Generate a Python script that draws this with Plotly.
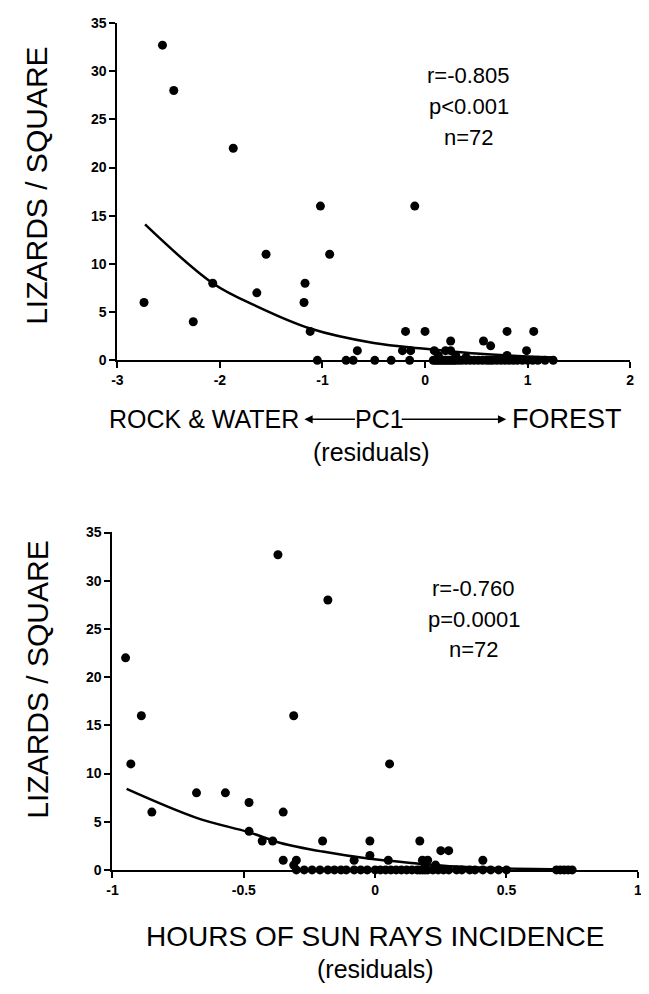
import plotly.graph_objects as go

# ---------------- Top panel: PC1 residuals ----------------
pc1_x = [-2.56, -2.45, -1.87, -1.02, -0.10, -1.55, -0.93, -1.17, -2.07, -1.64,
         -1.18, -2.74, -2.26, -1.12, -0.19, 0.00, 0.80, 1.06, 0.25, 0.57,
         0.64, -0.66, -0.22, -0.14, 0.09, 0.20, 0.25, 0.99, 0.80, 0.13,
         0.30, 0.40,
         -1.05, -0.77, -0.70, -0.49, -0.33, -0.15,
         0.08, 0.10, 0.12, 0.14, 0.16, 0.18, 0.20, 0.22, 0.24, 0.26,
         0.28, 0.30, 0.33, 0.36, 0.40, 0.44, 0.48, 0.52, 0.56, 0.60,
         0.63, 0.66, 0.70, 0.74, 0.78, 0.82, 0.86, 0.90, 0.95, 1.00,
         1.05, 1.10, 1.17, 1.25]
pc1_y = [32.7, 28, 22, 16, 16, 11, 11, 8, 8, 7,
         6, 6, 4, 3, 3, 3, 3, 3, 2, 2,
         1.5, 1, 1, 1, 1, 1, 1, 1, 0.5, 0.5,
         0.5, 0.3,
         0, 0, 0, 0, 0, 0,
         0, 0, 0, 0, 0, 0, 0, 0, 0, 0,
         0, 0, 0, 0, 0, 0, 0, 0, 0, 0,
         0, 0, 0, 0, 0, 0, 0, 0, 0, 0,
         0, 0, 0, 0]
pc1_fit_x = [-2.73, -2.07, -1.64, -1.12, -0.50, 0.00, 0.50, 1.00, 1.27]
pc1_fit_y = [14.1, 8.0, 5.6, 3.3, 1.8, 1.2, 0.7, 0.4, 0.3]
pc1_ticks = [-3, -2, -1, 0, 1, 2]
pc1_ticktext = ["-3", "-2", "-1", "0", "1", "2"]
pc1_stats = ["r=-0.805", "p<0.001", "n=72"]

# ---------------- Bottom panel: sun rays residuals ----------------
sun_x = [-0.95, -0.89, -0.93, -0.85, -0.37, -0.18, -0.31, 0.055, -0.68, -0.57,
         -0.48, -0.35, -0.48, -0.43, -0.39, -0.20, -0.02, 0.17, 0.25, 0.28,
         -0.02, -0.35, -0.30, -0.08, 0.05, 0.18, 0.20, 0.41, -0.31, 0.23,
         0.19,
         -0.30, -0.27, -0.24, -0.21, -0.18, -0.155, -0.13, -0.11, -0.08, -0.055,
         -0.03, 0.00, 0.02, 0.04, 0.06, 0.08, 0.10, 0.12, 0.14, 0.16,
         0.17, 0.18, 0.19, 0.20, 0.22, 0.24, 0.26, 0.28, 0.31, 0.33,
         0.36, 0.38, 0.41, 0.44, 0.47, 0.50, 0.69, 0.705, 0.72, 0.735,
         0.75]
sun_y = [22, 16, 11, 6, 32.7, 28, 16, 11, 8, 8,
         7, 6, 4, 3, 3, 3, 3, 3, 2, 2,
         1.5, 1, 1, 1, 1, 1, 1, 1, 0.5, 0.5,
         0.6,
         0, 0, 0, 0, 0, 0, 0, 0, 0, 0,
         0, 0, 0, 0, 0, 0, 0, 0, 0, 0,
         0, 0, 0, 0, 0, 0, 0, 0, 0, 0,
         0, 0, 0, 0, 0, 0, 0, 0, 0, 0,
         0]
sun_fit_x = [-0.946, -0.68, -0.48, -0.36, -0.20, -0.02, 0.15, 0.31, 0.50, 0.75]
sun_fit_y = [8.4, 5.4, 3.9, 2.8, 1.9, 1.15, 0.7, 0.35, 0.15, 0.05]
sun_ticks = [-1, -0.5, 0, 0.5, 1]
sun_ticktext = ["-1", "-0.5", "0", "0.5", "1"]
sun_stats = ["r=-0.760", "p=0.0001", "n=72"]

y_ticks = [0, 5, 10, 15, 20, 25, 30, 35]

# page body has an 8px default margin -> shrink figure and offset coordinates
OFF = 8
W, H = 649 - OFF, 994 - OFF
FONT = "Liberation Sans, Arial, Helvetica, sans-serif"


def px(x):
    return (x - OFF) / W


def py(y):
    return 1 - (y - OFF) / H


fig = go.Figure()

fig.add_trace(go.Scatter(x=pc1_x, y=pc1_y, mode="markers", xaxis="x", yaxis="y",
                         marker=dict(color="black", size=9), cliponaxis=False,
                         showlegend=False))
fig.add_trace(go.Scatter(x=pc1_fit_x, y=pc1_fit_y, mode="lines", xaxis="x", yaxis="y",
                         line=dict(color="black", width=2.5, shape="spline"),
                         showlegend=False))
fig.add_trace(go.Scatter(x=sun_x, y=sun_y, mode="markers", xaxis="x2", yaxis="y2",
                         marker=dict(color="black", size=9), cliponaxis=False,
                         showlegend=False))
fig.add_trace(go.Scatter(x=sun_fit_x, y=sun_fit_y, mode="lines", xaxis="x2", yaxis="y2",
                         line=dict(color="black", width=2.5, shape="spline"),
                         showlegend=False))

axis_common = dict(showline=True, linecolor="black", linewidth=2, ticks="outside",
                   ticklen=6, tickwidth=1.5, tickcolor="black", showgrid=False,
                   zeroline=False, mirror=False,
                   tickfont=dict(family=FONT, size=14, color="black", weight="bold"))

fig.update_layout(
    width=W, height=H,
    margin=dict(l=0, r=0, t=0, b=0),
    paper_bgcolor="white", plot_bgcolor="white",
    font=dict(family=FONT, color="black"),
    xaxis=dict(domain=[px(113), px(634)], range=[-3, 2.001], tickvals=pc1_ticks,
               ticktext=pc1_ticktext, anchor="y", **axis_common),
    yaxis=dict(domain=[py(358), py(15)], range=[0, 35.01], tickvals=y_ticks,
               anchor="x", **axis_common),
    xaxis2=dict(domain=[px(108), px(642)], range=[-1, 1.001], tickvals=sun_ticks,
                ticktext=sun_ticktext, anchor="y2", **axis_common),
    yaxis2=dict(domain=[py(876), py(533)], range=[0, 35.01], tickvals=y_ticks,
                anchor="x2", **axis_common),
)

ann = []
title_font = dict(family=FONT, size=30, color="black")
# Y-axis titles
for yc in (181, 683):
    ann.append(dict(text="LIZARDS / SQUARE", x=px(31), y=py(yc), xref="paper", yref="paper",
                    textangle=-90, showarrow=False, font=title_font,
                    xanchor="center", yanchor="middle"))

# Stats text
stat_font = dict(family=FONT, size=22, color="black")
for i, t in enumerate(pc1_stats):
    ann.append(dict(text=t, x=px(470), y=py(68 + 32 * i), xref="paper", yref="paper",
                    showarrow=False, font=stat_font, xanchor="center", yanchor="middle"))
for i, t in enumerate(sun_stats):
    ann.append(dict(text=t, x=px(475), y=py(590 + 31 * i), xref="paper", yref="paper",
                    showarrow=False, font=stat_font, xanchor="center", yanchor="middle"))

# Top x title: ROCK & WATER <-- PC1 --> FOREST
xt_font = dict(family=FONT, size=25, color="black")
ann.append(dict(text="ROCK & WATER", x=px(300), y=py(418), xref="paper", yref="paper",
                showarrow=False, font=xt_font, xanchor="right", yanchor="middle"))
ann.append(dict(text="PC1", x=px(379), y=py(418), xref="paper", yref="paper",
                showarrow=False, font=xt_font, xanchor="center", yanchor="middle"))
ann.append(dict(text="FOREST", x=px(512), y=py(418), xref="paper", yref="paper",
                showarrow=False, font=dict(family=FONT, size=27, color="black"),
                xanchor="left", yanchor="middle"))
ann.append(dict(text="", x=px(303), y=py(418), xref="paper", yref="paper",
                ax=52, ay=0, showarrow=True, arrowhead=2, arrowsize=1.1,
                arrowwidth=1.5, arrowcolor="black", standoff=0))
ann.append(dict(text="", x=px(508), y=py(418), xref="paper", yref="paper",
                ax=-106, ay=0, showarrow=True, arrowhead=2, arrowsize=1.1,
                arrowwidth=1.5, arrowcolor="black", standoff=0))
ann.append(dict(text="(residuals)", x=px(371), y=py(451), xref="paper", yref="paper",
                showarrow=False, font=xt_font, xanchor="center", yanchor="middle"))

# Bottom x title
ann.append(dict(text="HOURS OF SUN RAYS INCIDENCE", x=px(375), y=py(944), xref="paper",
                yref="paper", showarrow=False, font=dict(family=FONT, size=28, color="black"),
                xanchor="center", yanchor="middle"))
ann.append(dict(text="(residuals)", x=px(375), y=py(977), xref="paper", yref="paper",
                showarrow=False, font=xt_font, xanchor="center", yanchor="middle"))

fig.update_layout(annotations=ann)
fig.write_html("out.html")
